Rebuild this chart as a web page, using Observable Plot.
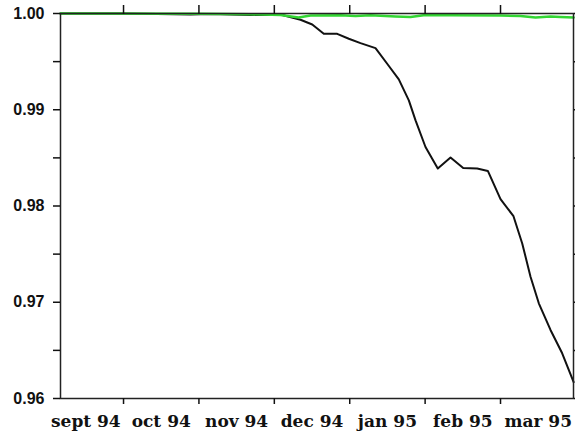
<!DOCTYPE html>
<html>
<head>
<meta charset="utf-8">
<script src="https://cdn.jsdelivr.net/npm/d3@7"></script>
<script src="https://cdn.jsdelivr.net/npm/@observablehq/plot@0.6"></script>
<style>
  html, body { margin: 0; padding: 0; background: #fff; }
</style>
</head>
<body>
<div id="chart"></div>
<script>
// x = months since 1 Sept 1994
const monthLabels = ["sept 94", "oct 94", "nov 94", "dec 94", "jan 95", "feb 95", "mar 95"];
const monthBounds = [1, 2, 3, 4, 5, 6];
const labelPos = [0.5, 1.5, 2.5, 3.5, 4.5, 5.5, 6.5];
const yMajor = [0.96, 0.97, 0.98, 0.99, 1.00];
const yMinor = [0.965, 0.975, 0.985, 0.995];

const blackX = [0.164, 1.0, 1.889, 2.154, 2.684, 2.95, 3.08, 3.347, 3.503, 3.656, 3.834, 3.988, 4.143, 4.342, 4.497, 4.651, 4.784, 4.873, 5.005, 5.168, 5.337, 5.505, 5.691, 5.832, 6.0, 6.172, 6.288, 6.398, 6.508, 6.663, 6.818, 6.97];
const blackY = [1.0, 1.0, 0.9999, 0.99995, 0.99984, 0.99984, 0.9999, 0.99935, 0.99886, 0.99789, 0.99789, 0.99738, 0.99692, 0.99640, 0.99478, 0.99315, 0.99097, 0.98890, 0.98613, 0.98389, 0.98503, 0.98395, 0.98389, 0.98364, 0.98071, 0.97894, 0.97611, 0.97265, 0.96989, 0.96712, 0.96470, 0.96170];

const greenX = [0.164, 2.021, 2.684, 3.082, 3.321, 3.48, 3.878, 4.077, 4.276, 4.607, 4.806, 5.005, 5.337, 6.0, 6.265, 6.464, 6.663, 6.796, 6.97];
const greenY = [1.0, 0.99998, 0.99992, 0.99984, 0.99959, 0.99979, 0.99981, 0.99974, 0.99982, 0.99969, 0.99964, 0.99984, 0.99981, 0.99979, 0.99974, 0.99959, 0.99969, 0.99964, 0.99959];

const black = blackX.map((x, i) => ({x, y: blackY[i]}));
const green = greenX.map((x, i) => ({x, y: greenY[i]}));

const chart = Plot.plot({
  width: 575,
  height: 435,
  marginLeft: 60,
  marginRight: 2,
  marginTop: 13,
  marginBottom: 37,
  x: {domain: [0.164, 6.968]},
  y: {domain: [0.96, 1.0]},
  style: {background: "#fff", color: "#111"},
  marks: [
    Plot.line(black, {x: "x", y: "y", stroke: "#111", strokeWidth: 2}),
    Plot.line(green, {x: "x", y: "y", stroke: "#33d633", strokeWidth: 2.5}),
    Plot.frame({stroke: "#222", strokeWidth: 1.5}),
    Plot.axisY({ticks: yMajor, tickFormat: d3.format(".2f"), tickSize: 7, tickPadding: 9,
      fontFamily: "Liberation Sans, Arial, sans-serif", fontSize: 16, fontWeight: "bold",
      strokeWidth: 1.5, label: null}),
    Plot.axisY({ticks: yMinor, tickFormat: () => "", tickSize: 7, strokeWidth: 1.5, label: null}),
    Plot.axisY({anchor: "right", ticks: yMajor.concat(yMinor), tickFormat: () => "", tickSize: 7, strokeWidth: 1.5, label: null}),
    Plot.axisX({anchor: "top", ticks: monthBounds, tickFormat: () => "", tickSize: 9, strokeWidth: 1.5, label: null}),
    Plot.axisX({anchor: "bottom", ticks: monthBounds, tickFormat: () => "", tickSize: 6, strokeWidth: 1.5, label: null}),
    Plot.axisX({anchor: "bottom", ticks: labelPos, tickFormat: (d, i) => monthLabels[i], tickSize: 0, tickPadding: 16,
      fontFamily: "DejaVu Serif, serif", fontSize: 17, fontWeight: "bold", label: null})
  ]
});
document.getElementById("chart").appendChild(chart);
</script>
</body>
</html>
